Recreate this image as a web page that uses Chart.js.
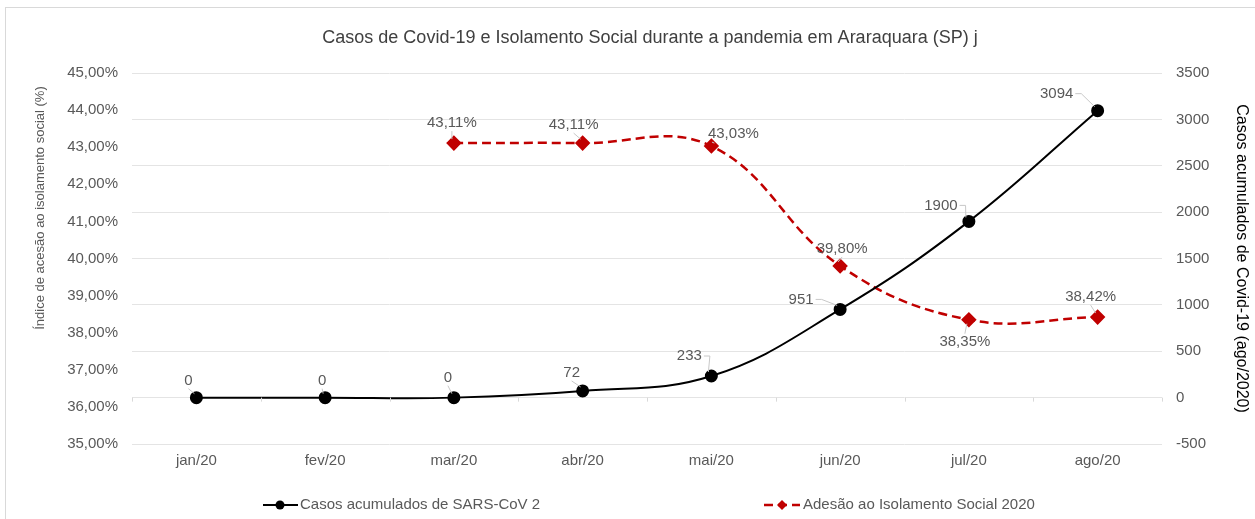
<!DOCTYPE html>
<html lang="pt">

<head>
    <meta charset="UTF-8">
    <title>Casos de Covid-19 e Isolamento Social</title>
    <script src="https://cdn.jsdelivr.net/npm/chart.js"></script>
    <style>
        html, body { margin: 0; padding: 0; background: #fff; }
        .frame {
            position: absolute; left: 5px; top: 7px; width: 1250px; height: 512px;
            border-left: 1px solid #d9d9d9; border-top: 1px solid #d9d9d9;
        }
        #box { position: absolute; left: 0; top: 0; width: 1255px; height: 519px; }
    </style>
</head>

<body>
    <div class="frame"></div>
    <div id="box"><canvas id="covidChart"></canvas></div>

    <script>
        // dados
        var meses = ['jan/20', 'fev/20', 'mar/20', 'abr/20', 'mai/20', 'jun/20', 'jul/20', 'ago/20'];
        var casos = [0, 0, 0, 72, 233, 951, 1900, 3094];
        var isolamento = [null, null, 43.11, 43.11, 43.03, 39.80, 38.35, 38.42];

        // deslocamento dos rótulos (px) em relação ao ponto
        var offCasos = [[-8, -17], [-3, -17], [-6, -20], [-11, -18], [-22, -20], [-39, -10], [-28, -16], [-41, -17]];
        var offIsol = [null, null, [-2, -20], [-9, -18], [22, -12], [2, -17], [-4, 22], [-7, -20]];

        var FONT = '"Liberation Sans", Arial, sans-serif';
        var GREY = '#595959';
        var TITULO = 'Casos de Covid-19 e Isolamento Social durante a pandemia em Araraquara (SP) j';

        function fmtPct(v) {
            return v.toFixed(2).replace('.', ',') + '%';
        }

        var extras = {
            id: 'extras',
            afterDatasetsDraw: function (chart) {
                var ctx = chart.ctx;
                var area = chart.chartArea;
                var y1 = chart.scales.y1;

                // título
                ctx.save();
                ctx.font = '18px ' + FONT;
                ctx.fillStyle = '#404040';
                ctx.textAlign = 'center';
                ctx.textBaseline = 'middle';
                ctx.fillText(TITULO, (area.left + area.right) / 2 + 3, 38);
                ctx.restore();

                // marcas do eixo x na linha do zero
                var y0 = y1.getPixelForValue(0);
                ctx.save();
                ctx.strokeStyle = '#d9d9d9';
                ctx.lineWidth = 1;
                var n = meses.length;
                for (var i = 0; i <= n; i++) {
                    var x = Math.round(area.left + i * (area.right - area.left) / n) + 0.5;
                    ctx.beginPath();
                    ctx.moveTo(x, y0);
                    ctx.lineTo(x, y0 + 4);
                    ctx.stroke();
                }
                ctx.restore();

                // rótulos de dados com linha de chamada
                function rotulos(dsIndex, offs, fmt) {
                    var meta = chart.getDatasetMeta(dsIndex);
                    var data = chart.data.datasets[dsIndex].data;
                    ctx.save();
                    ctx.font = '15px ' + FONT;
                    ctx.fillStyle = GREY;
                    ctx.textAlign = 'center';
                    ctx.textBaseline = 'middle';
                    meta.data.forEach(function (pt, i) {
                        if (data[i] === null || !offs[i]) return;
                        var tx = pt.x + offs[i][0];
                        var ty = pt.y + offs[i][1];
                        var txt = fmt(data[i]);
                        var w = ctx.measureText(txt).width;
                        ctx.strokeStyle = '#c8c8c8';
                        ctx.lineWidth = 1;
                        ctx.beginPath();
                        if (offs[i][0] < -15) {
                            var sx = tx + w / 2 + 2;
                            ctx.moveTo(sx, ty);
                            ctx.lineTo(sx + 6, ty);
                            ctx.lineTo(pt.x - 3, pt.y - 4);
                        } else if (offs[i][0] > 15) {
                            ctx.moveTo(tx - w / 2 + 4, ty + 8);
                            ctx.lineTo(pt.x + 3, pt.y - 3);
                        } else {
                            var ey = ty + (offs[i][1] < 0 ? 8 : -8);
                            ctx.moveTo(tx, ey);
                            ctx.lineTo(pt.x - 2, pt.y + (offs[i][1] < 0 ? -4 : 4));
                        }
                        ctx.stroke();
                        ctx.fillText(txt, tx, ty);
                    });
                    ctx.restore();
                }
                rotulos(0, offCasos, function (v) { return String(v); });
                rotulos(1, offIsol, fmtPct);

                // título do eixo esquerdo
                ctx.save();
                ctx.font = '13px ' + FONT;
                ctx.fillStyle = GREY;
                ctx.textAlign = 'center';
                ctx.textBaseline = 'middle';
                ctx.translate(40, 208);
                ctx.rotate(-Math.PI / 2);
                ctx.fillText('Índice de acesão ao isolamento social (%)', 0, 0);
                ctx.restore();

                // legenda
                ctx.save();
                ctx.font = '15px ' + FONT;
                ctx.textBaseline = 'middle';
                var ly = 505;
                // série 1
                ctx.strokeStyle = '#000';
                ctx.lineWidth = 2;
                ctx.beginPath();
                ctx.moveTo(263, ly);
                ctx.lineTo(298, ly);
                ctx.stroke();
                ctx.fillStyle = '#000';
                ctx.beginPath();
                ctx.arc(280, ly, 4.5, 0, Math.PI * 2);
                ctx.fill();
                ctx.fillStyle = GREY;
                ctx.fillText('Casos acumulados de SARS-CoV 2', 300, ly);
                // série 2
                ctx.strokeStyle = '#c00000';
                ctx.lineWidth = 2.5;
                ctx.setLineDash([9, 5]);
                ctx.beginPath();
                ctx.moveTo(764, ly);
                ctx.lineTo(800, ly);
                ctx.stroke();
                ctx.setLineDash([]);
                ctx.fillStyle = '#c00000';
                ctx.beginPath();
                ctx.moveTo(782, ly - 5);
                ctx.lineTo(787, ly);
                ctx.lineTo(782, ly + 5);
                ctx.lineTo(777, ly);
                ctx.closePath();
                ctx.fill();
                ctx.fillStyle = GREY;
                ctx.fillText('Adesão ao Isolamento Social 2020', 803, ly);
                ctx.restore();
            }
        };

        var ctx = document.getElementById('covidChart').getContext('2d');
        var covidChart = new Chart(ctx, {
            type: 'line',
            data: {
                labels: meses,
                datasets: [{
                    label: 'Casos acumulados de SARS-CoV 2',
                    data: casos,
                    yAxisID: 'y1',
                    borderColor: '#000',
                    backgroundColor: '#000',
                    borderWidth: 2,
                    pointRadius: 5.5,
                    pointHoverRadius: 5.5,
                    pointStyle: 'circle',
                    tension: 0.4
                }, {
                    label: 'Adesão ao Isolamento Social 2020',
                    data: isolamento,
                    yAxisID: 'y',
                    borderColor: '#c00000',
                    backgroundColor: '#c00000',
                    borderWidth: 2.5,
                    borderDash: [9, 5],
                    pointRadius: 6,
                    pointHoverRadius: 6,
                    pointStyle: 'rectRot',
                    tension: 0.4
                }]
            },
            options: {
                responsive: true,
                maintainAspectRatio: false,
                animation: false,
                layout: { padding: { left: 0, right: 0, top: 73, bottom: 45 } },
                plugins: {
                    legend: { display: false },
                    tooltip: { enabled: false }
                },
                scales: {
                    x: {
                        offset: true,
                        grid: { display: false, drawTicks: false },
                        border: { display: false },
                        ticks: { color: GREY, font: { family: FONT, size: 15 }, padding: 8 },
                        afterFit: function (s) { s.height = 30; }
                    },
                    y: {
                        position: 'left',
                        min: 35,
                        max: 45,
                        grid: { display: false, drawTicks: false },
                        border: { display: false },
                        ticks: {
                            stepSize: 1,
                            color: GREY,
                            padding: 14,
                            font: { family: FONT, size: 15 },
                            callback: function (v) { return fmtPct(v); }
                        },
                        afterFit: function (s) { s.width = 132; }
                    },
                    y1: {
                        position: 'right',
                        min: -500,
                        max: 3500,
                        grid: { color: '#e4e4e4', drawTicks: false },
                        border: { display: false },
                        ticks: {
                            stepSize: 500,
                            color: GREY,
                            padding: 14,
                            font: { family: FONT, size: 15 },
                            callback: function (v) { return String(v); }
                        },
                        title: {
                            display: true,
                            text: 'Casos acumulados de Covid-19 (ago/2020)',
                            color: '#000',
                            font: { family: FONT, size: 16 },
                            padding: { top: 4, bottom: 15 }
                        },
                        afterFit: function (s) { s.width = 93; }
                    }
                }
            },
            plugins: [extras]
        });
    </script>
</body>

</html>
